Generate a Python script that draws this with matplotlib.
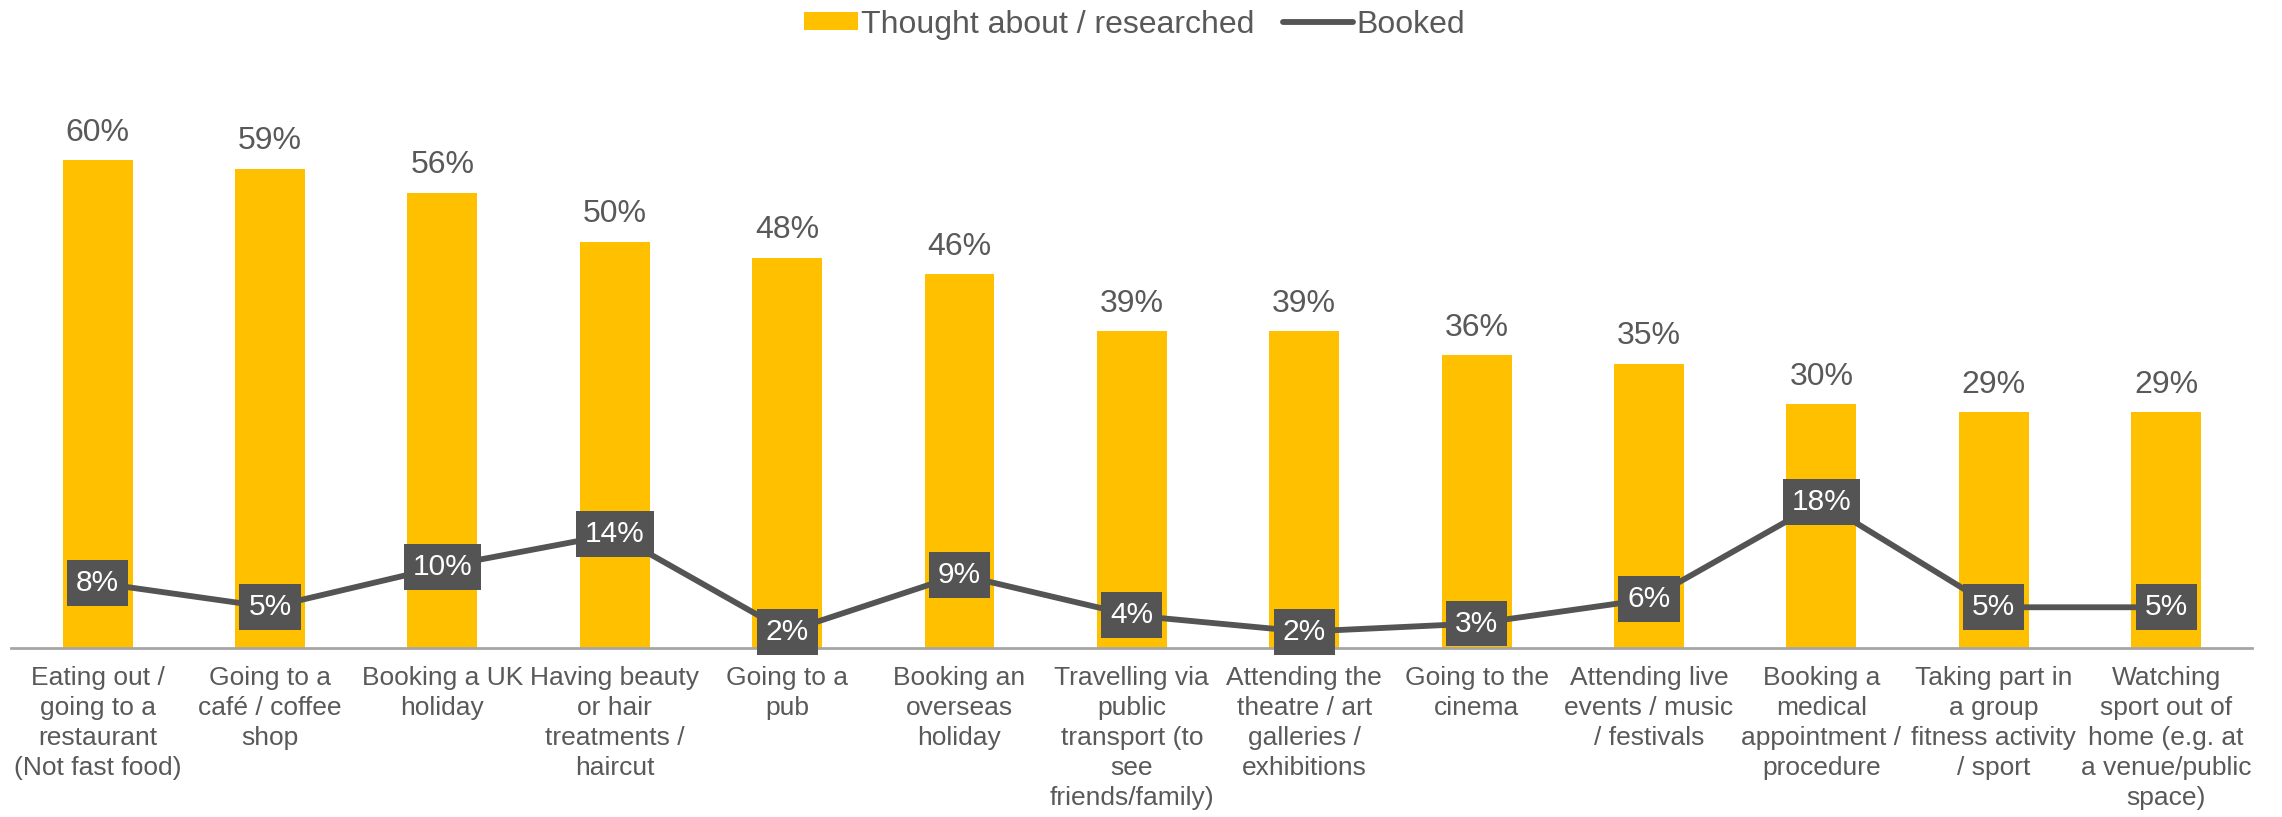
import matplotlib
matplotlib.use("Agg")
import matplotlib.pyplot as plt
from matplotlib.patches import Rectangle
from matplotlib.legend_handler import HandlerPatch
import numpy as np

plt.rcParams['font.family'] = ['Liberation Sans', 'DejaVu Sans']

categories = [
    "Eating out /\ngoing to a\nrestaurant\n(Not fast food)",
    "Going to a\ncafé / coffee\nshop",
    "Booking a UK\nholiday",
    "Having beauty\nor hair\ntreatments /\nhaircut",
    "Going to a\npub",
    "Booking an\noverseas\nholiday",
    "Travelling via\npublic\ntransport (to\nsee\nfriends/family)",
    "Attending the\ntheatre / art\ngalleries /\nexhibitions",
    "Going to the\ncinema",
    "Attending live\nevents / music\n/ festivals",
    "Booking a\nmedical\nappointment /\nprocedure",
    "Taking part in\na group\nfitness activity\n/ sport",
    "Watching\nsport out of\nhome (e.g. at\na venue/public\nspace)",
]
thought = [60, 59, 56, 50, 48, 46, 39, 39, 36, 35, 30, 29, 29]
booked = [8, 5, 10, 14, 2, 9, 4, 2, 3, 6, 18, 5, 5]

YELLOW = '#FFC000'
DARK = '#545454'
TEXT = '#595959'


def short_patch(legend, orig_handle, xdescent, ydescent, width, height, fontsize):
    # bar swatch is narrower than the line sample, kept next to its text
    w = width * 0.76
    return Rectangle((-xdescent + width - w, -ydescent), w, height)


fig = plt.figure(figsize=(22.82, 8.17), dpi=100)
ax = fig.add_axes([0.005, 0.207, 0.982, 0.696])

x = np.arange(len(categories))
bars = ax.bar(x, thought, width=0.405, color=YELLOW, label='Thought about / researched', zorder=2)
line, = ax.plot(x, booked, color=DARK, lw=4.2, solid_capstyle='round',
                solid_joinstyle='round', label='Booked', zorder=3)

for xi, v in zip(x, thought):
    ax.annotate(f'{v}%', (xi, v), xytext=(0, 9), textcoords='offset points',
                ha='center', va='bottom', fontsize=23, color=TEXT)

for xi, v in zip(x, booked):
    ax.text(xi, v, f'{v}%', ha='center', va='center', fontsize=21.5, color='white', zorder=4,
            bbox=dict(boxstyle='square,pad=0.3', fc=DARK, ec='none'))

ax.set_xlim(-0.5, 12.5)
ax.set_ylim(0, 70)
ax.set_xticks(x)
ax.set_xticklabels(categories, fontsize=19, color=TEXT, linespacing=1.32)
ax.tick_params(axis='x', length=0, pad=13)
ax.set_yticks([])
for s in ['top', 'right', 'left']:
    ax.spines[s].set_visible(False)
ax.spines['bottom'].set_color('#A6A6A6')
ax.spines['bottom'].set_linewidth(2)

bar_handle = bars.patches[0]
leg = fig.legend([bar_handle, line], ['Thought about / researched', 'Booked'],
                 loc='center', bbox_to_anchor=(0.4936, 0.97), ncol=2, frameon=False,
                 fontsize=23, handlelength=2.2, handletextpad=0.1, columnspacing=0.9,
                 handleheight=0.5,
                 handler_map={bar_handle: HandlerPatch(patch_func=short_patch)})
for t in leg.get_texts():
    t.set_color(TEXT)

fig.savefig('out.png', dpi=100)
